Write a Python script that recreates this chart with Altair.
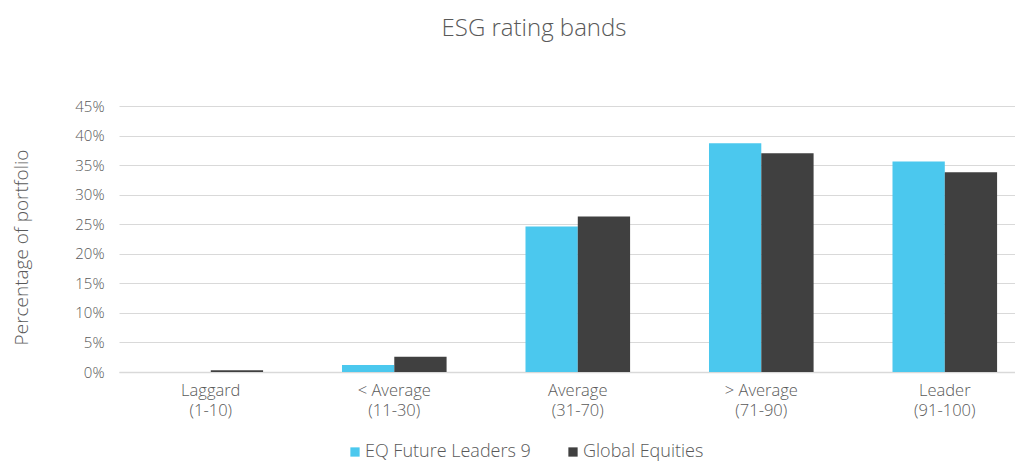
import altair as alt
import pandas as pd

categories = ["Laggard|(1-10)", "< Average|(11-30)", "Average|(31-70)", "> Average|(71-90)", "Leader|(91-100)"]
series_names = ["EQ Future Leaders 9", "Global Equities"]
eq_values = [0.0, 1.2, 24.6, 38.7, 35.6]
global_values = [0.3, 2.6, 26.3, 37.0, 33.8]
y_ticks = [0, 5, 10, 15, 20, 25, 30, 35, 40, 45]
colors = ["#4BC8EE", "#404040"]

rows = []
for c, v in zip(categories, eq_values):
    rows.append({"band": c, "series": series_names[0], "value": v / 100})
for c, v in zip(categories, global_values):
    rows.append({"band": c, "series": series_names[1], "value": v / 100})
df = pd.DataFrame(rows)

FONT = "Open Sans"
W = 300
GREY = "#595959"

chart = alt.Chart(df).mark_bar().encode(
    x=alt.X("band:N", sort=categories, title=None,
            scale=alt.Scale(paddingInner=0.43, paddingOuter=0.1564, align=0.688),
            axis=alt.Axis(labelExpr="split(datum.label, '|')", labelAngle=0,
                          labelFontSize=16.5, labelColor=GREY, labelFont=FONT,
                          labelFontWeight=W, labelLineHeight=20,
                          labelPadding=10, ticks=False, domain=True,
                          domainColor="#D9D9D9", domainWidth=1.5)),
    xOffset=alt.XOffset("series:N", sort=series_names),
    y=alt.Y("value:Q", title="Percentage of portfolio",
            scale=alt.Scale(domain=[0, 0.45], nice=False),
            axis=alt.Axis(values=[t / 100 for t in y_ticks], format=".0%",
                          labelFontSize=15, labelColor=GREY, labelFont=FONT,
                          labelFontWeight=W, labelPadding=15,
                          ticks=False, domain=False, gridColor="#D9D9D9",
                          gridWidth=1.2, titleFont=FONT, titleFontSize=19,
                          titleFontWeight=W, titleColor=GREY,
                          titleX=-98, titleY=141, titleAngle=-90,
                          titleAlign="center", titleBaseline="middle")),
    color=alt.Color("series:N", sort=series_names,
                    scale=alt.Scale(domain=series_names, range=colors),
                    legend=alt.Legend(title=None, orient="none", direction="horizontal",
                                      legendX=227, legendY=337, symbolType="square",
                                      symbolSize=86, symbolStrokeWidth=0,
                                      labelFont=FONT, labelFontSize=18,
                                      labelFontWeight=W, labelColor=GREY,
                                      labelLimit=400,
                                      columnPadding=33, labelOffset=1)),
).properties(
    width=896, height=266,
    title=alt.TitleParams("ESG rating bands", font=FONT, fontSize=24,
                          fontWeight=W, color=GREY, anchor="middle",
                          dx=-33, offset=58),
    autosize=alt.AutoSizeParams(type="none"),
    padding={"left": 111, "top": 98, "right": 0, "bottom": 92},
).configure_view(stroke=None)

chart.save("out.html", embed_options={"renderer": "svg", "actions": False})
